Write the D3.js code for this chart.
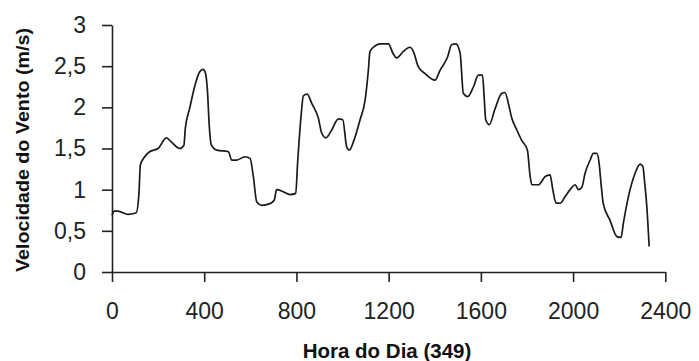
<!DOCTYPE html>
<html>
<head>
<meta charset="utf-8">
<script src="https://cdn.jsdelivr.net/npm/d3@7"></script>
<style>
  body { margin: 0; background: #fff; }
  svg { display: block; }
  .tick text { font-family: "Liberation Sans", Arial, sans-serif; font-size: 23px; fill: #222; }
  .title { font-family: "Liberation Sans", Arial, sans-serif; font-weight: bold; fill: #111; }
</style>
</head>
<body>
<div id="root"></div>
<script>
// hora do dia (HHMM) e velocidade do vento (m/s)
const hora = [0, 10, 26, 69, 105, 117, 123, 142, 163, 200, 236, 257, 294, 312, 318, 337, 362, 380, 395,
  405, 414, 422, 430, 454, 505, 519, 541, 577, 599, 613, 628, 649, 685, 704, 714, 743, 772, 797, 805,
  820, 830, 847, 866, 895, 910, 928, 953, 982, 1001, 1018, 1030, 1047, 1076, 1098, 1112, 1119, 1141,
  1163, 1199, 1218, 1235, 1264, 1293, 1307, 1329, 1358, 1401, 1423, 1456, 1473, 1492, 1510, 1524,
  1543, 1568, 1589, 1607, 1615, 1621, 1637, 1660, 1691, 1705, 1719, 1734, 1756, 1777, 1802, 1813,
  1821, 1850, 1879, 1900, 1912, 1926, 1944, 1965, 1987, 2009, 2023, 2038, 2052, 2074, 2088, 2103,
  2113, 2121, 2131, 2160, 2190, 2208, 2218, 2240, 2269, 2291, 2303, 2310, 2321, 2326, 2330];
const velocidade = [0.69, 0.74, 0.74, 0.70, 0.72, 0.96, 1.30, 1.40, 1.46, 1.50, 1.63, 1.58, 1.50, 1.54, 1.745, 1.99, 2.29, 2.43, 2.46,
  2.42, 2.20, 1.77, 1.55, 1.48, 1.46, 1.36, 1.36, 1.40, 1.38, 1.16, 0.85, 0.81, 0.83, 0.875, 1.00, 0.975, 0.94, 0.955, 1.32,
  1.89, 2.14, 2.16, 2.05, 1.87, 1.685, 1.63, 1.725, 1.86, 1.85, 1.52, 1.48, 1.58, 1.85, 2.09, 2.45, 2.68, 2.745,
  2.77, 2.77, 2.66, 2.60, 2.68, 2.73, 2.68, 2.49, 2.41, 2.33, 2.45, 2.615, 2.76, 2.77, 2.66, 2.17,
  2.13, 2.25, 2.39, 2.39, 2.09, 1.85, 1.79, 1.97, 2.17, 2.18, 2.05, 1.87, 1.725, 1.60, 1.48, 1.18,
  1.06, 1.06, 1.16, 1.18, 1.00, 0.84, 0.835, 0.915, 1.00, 1.06, 1.00, 1.03, 1.20, 1.36, 1.44, 1.44,
  1.32, 1.08, 0.83, 0.63, 0.43, 0.42, 0.59, 0.915, 1.20, 1.31, 1.28, 1.10, 0.75, 0.51, 0.31];
const xTicks = [0, 400, 800, 1200, 1600, 2000, 2400];
const yTicks = [0, 0.5, 1, 1.5, 2, 2.5, 3];

const w = 699, h = 361;
const svg = d3.select('#root').append('svg')
  .attr('width', w)
  .attr('height', h);

const x = d3.scaleLinear().domain([0, 2400]).range([112, 665.3]);
const y = d3.scaleLinear().domain([0, 3]).range([272, 25]);

const fmt = d => String(d).replace('.', ',');

const xAxis = d3.axisBottom(x).tickValues(xTicks).tickSize(10).tickSizeOuter(0).tickPadding(21).tickFormat(d => d);
const yAxis = d3.axisLeft(y).tickValues(yTicks).tickSize(10).tickSizeOuter(0).tickPadding(16).tickFormat(fmt);

const gx = svg.append('g').attr('transform', `translate(0,${y(0)})`).call(xAxis);
const gy = svg.append('g').attr('transform', `translate(${x(0)},0)`).call(yAxis);
[gx, gy].forEach(g => {
  g.select('.domain').attr('stroke', '#222').attr('stroke-width', 1.6);
  g.selectAll('.tick line').attr('stroke', '#222').attr('stroke-width', 1.6);
});

const dados = hora.map((d, i) => [d, velocidade[i]]);
const line = d3.line()
  .x(d => x(d[0]))
  .y(d => y(d[1]))
  .curve(d3.curveMonotoneX);

svg.append('path')
  .datum(dados)
  .attr('fill', 'none')
  .attr('stroke', '#1a1a1a')
  .attr('stroke-width', 1.7)
  .attr('d', line);

// titulos dos eixos
svg.append('text')
  .attr('class', 'title')
  .attr('text-anchor', 'middle')
  .attr('font-size', 20.5)
  .attr('x', 387)
  .attr('y', 358)
  .text('Hora do Dia (349)');

svg.append('text')
  .attr('class', 'title')
  .attr('text-anchor', 'middle')
  .attr('font-size', 18)
  .attr('textLength', 244)
  .attr('lengthAdjust', 'spacingAndGlyphs')
  .attr('transform', 'translate(29,150)rotate(-90)')
  .text('Velocidade do Vento (m/s)');
</script>
</body>
</html>
